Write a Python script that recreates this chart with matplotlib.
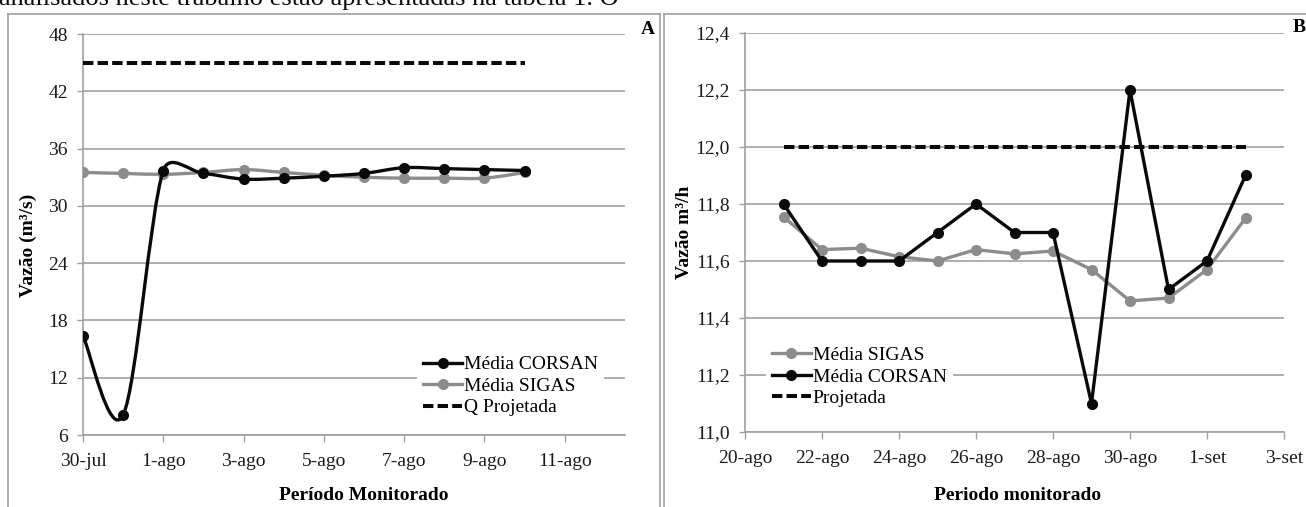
import matplotlib
matplotlib.use("Agg")
import matplotlib.pyplot as plt
import matplotlib.dates as mdates
from matplotlib.lines import Line2D
from matplotlib.path import Path
from matplotlib.patches import PathPatch
import numpy as np
import pandas as pd

# Panel A: 30-jul .. 10-ago
dates_a = pd.date_range("2013-07-30", "2013-08-10", freq="D")
corsan_a = [16.4, 8.1, 33.7, 33.4, 32.8, 32.9, 33.1, 33.4, 34.0, 33.9, 33.8, 33.7]
sigas_a = [33.5, 33.4, 33.3, 33.5, 33.8, 33.5, 33.2, 33.0, 32.9, 32.9, 32.9, 33.5]
proj_a = 45.0
ticks_a = pd.date_range("2013-07-30", "2013-08-11", freq="2D")
ticklabels_a = ["30-jul", "1-ago", "3-ago", "5-ago", "7-ago", "9-ago", "11-ago"]
yticks_a = [6, 12, 18, 24, 30, 36, 42, 48]

# Panel B: 21-ago .. 2-set
dates_b = pd.date_range("2013-08-21", "2013-09-02", freq="D")
sigas_b = [11.755, 11.64, 11.645, 11.615, 11.60, 11.64, 11.625, 11.635, 11.57, 11.46, 11.47, 11.57, 11.75]
corsan_b = [11.80, 11.60, 11.60, 11.60, 11.70, 11.80, 11.70, 11.70, 11.10, 12.20, 11.50, 11.60, 11.90]
proj_b = 12.0
ticks_b = pd.date_range("2013-08-20", "2013-09-03", freq="2D")
ticklabels_b = ["20-ago", "22-ago", "24-ago", "26-ago", "28-ago", "30-ago", "1-set", "3-set"]
yticks_b = [11.0, 11.2, 11.4, 11.6, 11.8, 12.0, 12.2, 12.4]

W, H = 1306, 507
BLACK = "#0a0a0a"
GRAY = "#8c8c8c"
GRID = "#a0a0a0"
FONT = "Liberation Serif"

plt.rcParams["font.family"] = [FONT, "DejaVu Serif"]
plt.rcParams["lines.scale_dashes"] = False


def px_axes(left, top, right, bottom):
    return [left / W, 1 - bottom / H, (right - left) / W, (bottom - top) / H]


def smooth_path(ax, x, y, k=0.5):
    # Excel-like smoothed line: Catmull-Rom Bezier through the points, with the
    # control arms clamped to a share of the adjacent on-screen segment length
    p = np.column_stack([x, y]).astype(float)
    s = ax.transData.transform(p)
    n = len(p)
    c_in = p.copy()
    c_out = p.copy()
    for i in range(n):
        a = max(i - 1, 0)
        b = min(i + 1, n - 1)
        arm = (p[b] - p[a]) / 6
        arm_px = (s[b] - s[a]) / 6
        L = np.hypot(*arm_px)
        if L == 0:
            continue
        d0 = np.hypot(*(s[i] - s[a]))
        d1 = np.hypot(*(s[b] - s[i]))
        c_out[i] = p[i] + arm * min(1.0, k * d1 / L)
        c_in[i] = p[i] - arm * min(1.0, k * d0 / L)
    verts = [p[0]]
    codes = [Path.MOVETO]
    for i in range(n - 1):
        verts += [c_out[i], c_in[i + 1], p[i + 1]]
        codes += [Path.CURVE4] * 3
    return Path(verts, codes)


def style_axes(ax, ylim, yticks, yfmt, xlim, xticks, xlabels):
    ax.set_ylim(*ylim)
    ax.set_yticks(yticks)
    ax.set_yticklabels([yfmt(v) for v in yticks])
    ax.set_xlim(*xlim)
    ax.set_xticks(xticks)
    ax.set_xticklabels(xlabels)
    ax.grid(axis="y", color=GRID, linewidth=1.2)
    ax.set_axisbelow(True)
    for s in ("top", "right"):
        ax.spines[s].set_visible(False)
    for s in ("left", "bottom"):
        ax.spines[s].set_color(GRID)
        ax.spines[s].set_linewidth(1.2)
    ax.tick_params(axis="y", direction="out", length=4.3, width=1, color=GRID,
                   pad=6.5, labelsize=14, labelcolor="#1a1a1a")
    ax.tick_params(axis="x", direction="out", length=5, width=1, color=GRID,
                   pad=8, labelsize=14, labelcolor="#1a1a1a")


fig = plt.figure(figsize=(W / 100, H / 100), dpi=100)

# ---- Panel A
ax_a = fig.add_axes(px_axes(83, 34, 625, 435))
xa = mdates.date2num(dates_a)
style_axes(ax_a, (6, 48), yticks_a, lambda v: f"{v:d}",
           (mdates.date2num(pd.Timestamp("2013-07-30")), mdates.date2num(pd.Timestamp("2013-08-12 12:00"))),
           mdates.date2num(ticks_a), ticklabels_a)
ax_a.plot([xa[0], xa[-1]], [proj_a, proj_a], color=BLACK, lw=2.9, dashes=(7.5, 3), zorder=3)
ax_a.add_patch(PathPatch(smooth_path(ax_a, xa, sigas_a), fill=False, edgecolor=GRAY, lw=2.4, zorder=3))
ax_a.plot(xa, sigas_a, "o", color=GRAY, ms=7, zorder=4)
ax_a.add_patch(PathPatch(smooth_path(ax_a, xa, corsan_a), fill=False, edgecolor=BLACK, lw=2.4, zorder=5))
ax_a.plot(xa, corsan_a, "o", color=BLACK, ms=7, zorder=6)

handles_a = [
    Line2D([], [], color=BLACK, lw=2.4, marker="o", ms=7),
    Line2D([], [], color=GRAY, lw=2.4, marker="o", ms=7),
    Line2D([], [], color=BLACK, lw=2.9, dashes=(7.5, 3)),
]
leg_a = ax_a.legend(handles_a, ["Média CORSAN", "Média SIGAS", "Q Projetada"],
                    loc="upper left", bbox_to_anchor=(0.617, 0.212), borderaxespad=0,
                    fontsize=14, frameon=True, framealpha=1, facecolor="white",
                    edgecolor="none", fancybox=False, handlelength=2.0,
                    handletextpad=0.1, labelspacing=0.2, borderpad=0.3)
ax_a.set_ylabel("Vazão (m³/s)", fontsize=14, fontweight="bold")
ax_a.yaxis.set_label_coords(-0.1, 0.474)
ax_a.yaxis.label.set_va("center")
ax_a.set_xlabel("Período Monitorado", fontsize=14, fontweight="bold")
ax_a.xaxis.set_label_coords(0.518, -0.15)
ax_a.xaxis.label.set_va("center")

# ---- Panel B
ax_b = fig.add_axes(px_axes(745, 33, 1284, 432))
xb = mdates.date2num(dates_b)
style_axes(ax_b, (11.0, 12.4), yticks_b, lambda v: f"{v:.1f}".replace(".", ","),
           (mdates.date2num(ticks_b[0]), mdates.date2num(ticks_b[-1])),
           mdates.date2num(ticks_b), ticklabels_b)
ax_b.plot([xb[0], xb[-1]], [proj_b, proj_b], color=BLACK, lw=2.9, dashes=(7.5, 3), zorder=3)
ax_b.plot(xb, sigas_b, "-o", color=GRAY, lw=2.4, ms=7, zorder=4)
ax_b.plot(xb, corsan_b, "-o", color=BLACK, lw=2.4, ms=7, zorder=5)

handles_b = [
    Line2D([], [], color=GRAY, lw=2.4, marker="o", ms=7),
    Line2D([], [], color=BLACK, lw=2.4, marker="o", ms=7),
    Line2D([], [], color=BLACK, lw=2.9, dashes=(7.5, 3)),
]
leg_b = ax_b.legend(handles_b, ["Média SIGAS", "Média CORSAN", "Projetada"],
                    loc="upper left", bbox_to_anchor=(0.039, 0.229), borderaxespad=0,
                    fontsize=14, frameon=True, framealpha=1, facecolor="white",
                    edgecolor="none", fancybox=False, handlelength=2.0,
                    handletextpad=0.1, labelspacing=0.2, borderpad=0.3)
ax_b.set_ylabel("Vazão m³/h", fontsize=14, fontweight="bold")
ax_b.yaxis.set_label_coords(-0.113, 0.50)
ax_b.yaxis.label.set_va("center")
ax_b.set_xlabel("Periodo monitorado", fontsize=14, fontweight="bold")
ax_b.xaxis.set_label_coords(0.506, -0.158)
ax_b.xaxis.label.set_va("center")

# ---- panel letters, frames and the cut-off line of document text
fig.text(648 / W, 1 - 29 / H, "A", fontsize=14, fontweight="bold", ha="center", va="center")
fig.text(1299 / W, 1 - 28 / H, "B", fontsize=14, fontweight="bold", ha="center", va="center")


def frame_line(x0, y0, x1, y1):
    fig.add_artist(Line2D([x0 / W, x1 / W], [1 - y0 / H, 1 - y1 / H],
                          transform=fig.transFigure, color=GRID, lw=1.2))


frame_line(8, 14, 8, H + 5)
frame_line(8, 14, 660, 14)
frame_line(660, 14, 660, H + 5)
frame_line(664, 14, 664, H + 5)
frame_line(664, 14, W + 5, 14)

fig.text(-1 / W, 1 - 5 / H, "analisados neste trabalho estão apresentadas na tabela 1. O",
         fontsize=19, ha="left", va="baseline", color=BLACK)

fig.savefig("out.png", dpi=100, facecolor="white")
